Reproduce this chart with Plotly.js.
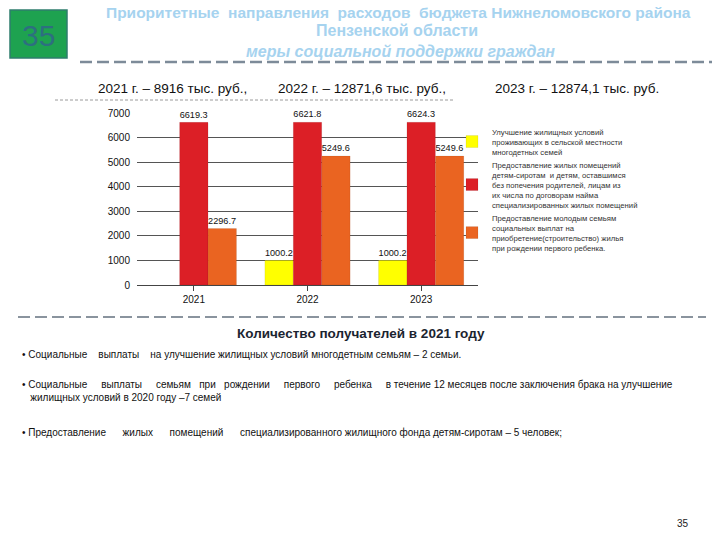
<!DOCTYPE html>
<html>
<head>
<meta charset="utf-8">
<script src="https://cdn.plot.ly/plotly-3.0.1.min.js"></script>
<style>
  body { margin: 0; background: #fff; }
  #chart { width: 720px; height: 540px; }
</style>
</head>
<body>
<div id="chart"></div>
<script>
// data
var years = ["2021", "2022", "2023"];
var ruralFamilies = [null, 1000.2, 1000.2];
var orphanHousing = [6619.3, 6621.8, 6624.3];
var youngFamilies = [2296.7, 5249.6, 5249.6];

var seriesNames = [
    "Улучшение жилищных условий<br>проживающих в сельской местности<br>многодетных семей",
    "Предоставление жилых помещений<br>детям-сиротам  и детям, оставшимся<br>без попечения родителей, лицам из<br>их числа по договорам найма<br>специализированных жилых помещений",
    "Предоставление молодым семьям<br>социальных выплат на<br>приобретение(строительство) жилья<br>при рождении первого ребенка."
];
var seriesColors = ["#ffff00", "#dc1f26", "#ea6421"];

var totals = ["2021 г. – 8916 тыс. руб.,", "2022 г. – 12871,6 тыс. руб.,", "2023 г. – 12874,1 тыс. руб."];
var bullets = [
    "• Социальные &nbsp;&nbsp; выплаты &nbsp;&nbsp; на улучшение жилищных условий многодетным семьям – 2 семьи.",
    "• Социальные &nbsp;&nbsp;&nbsp; выплаты &nbsp;&nbsp;&nbsp; семьям &nbsp; при &nbsp; рождении &nbsp;&nbsp;&nbsp; первого &nbsp;&nbsp;&nbsp; ребенка &nbsp;&nbsp;&nbsp; в течение 12 месяцев после заключения брака на улучшение",
    "&nbsp;&nbsp; жилищных условий в 2020 году –7 семей",
    "• Предоставление &nbsp;&nbsp;&nbsp;&nbsp; жилых &nbsp;&nbsp;&nbsp;&nbsp; помещений &nbsp;&nbsp;&nbsp;&nbsp; специализированного жилищного фонда детям-сиротам – 5 человек;"
];

var allValues = [ruralFamilies, orphanHousing, youngFamilies];
var data = allValues.map(function (vals, i) {
    return {
        x: years,
        y: vals,
        name: seriesNames[i],
        type: "bar",
        marker: {color: seriesColors[i], line: {color: "rgba(0,0,0,0.15)", width: 0.5}},
        text: vals.map(function (v) { return v === null ? "" : String(v); }),
        textposition: "outside",
        textfont: {size: 10, color: "#111"},
        cliponaxis: false
    };
});

var font = "Liberation Sans, Arial, sans-serif";
var annotations = [
    {text: "Приоритетные &nbsp;направления &nbsp;расходов &nbsp;бюджета Нижнеломовского района", x: 0.554, y: 13, size: 15.5, color: "#a6d3ef", bold: true},
    {text: "Пензенской области", x: 0.552, y: 31, size: 16, color: "#a6d3ef", bold: true},
    {text: "<i>меры социальной поддержки граждан</i>", x: 0.556, y: 51, size: 16, color: "#a6d3ef", bold: true},
    {text: "35", x: 0.0535, y: 36, size: 30, color: "#2d6f80"},
    {text: totals[0], x: 0.239, y: 89, size: 13.5, color: "#111"},
    {text: totals[1], x: 0.503, y: 89, size: 13.5, color: "#111"},
    {text: totals[2], x: 0.801, y: 89, size: 13.5, color: "#111"},
    {text: "Количество получателей в 2021 году", x: 0.502, y: 333, size: 13.5, color: "#1b2430", bold: true},
    {text: "35", x: 0.949, y: 523, size: 10, color: "#222"}
].map(function (a) {
    return {
        xref: "paper", yref: "paper", x: a.x, y: 1 - a.y / 540,
        text: a.bold ? "<b>" + a.text + "</b>" : a.text,
        showarrow: false, xanchor: "center", yanchor: "middle",
        font: {family: font, size: a.size, color: a.color}
    };
});

var bulletY = [354, 384, 397, 432];
bullets.forEach(function (t, i) {
    annotations.push({
        xref: "paper", yref: "paper", x: 20 / 720, y: 1 - bulletY[i] / 540,
        text: t, showarrow: false, xanchor: "left", yanchor: "middle",
        font: {family: font, size: 10, color: "#111"}
    });
});

function hline(x0, x1, y, color, width, dash) {
    return {
        type: "line", xref: "paper", yref: "paper",
        x0: x0 / 720, x1: x1 / 720, y0: 1 - y / 540, y1: 1 - y / 540,
        line: {color: color, width: width, dash: dash}
    };
}

var shapes = [
    {type: "rect", xref: "paper", yref: "paper", x0: 10 / 720, x1: 67 / 720, y0: 1 - 58 / 540, y1: 1 - 10 / 540,
     fillcolor: "#1ea250", line: {color: "#2f7d6e", width: 1.5}},
    hline(80, 712, 62, "#7d8b99", 2.5, "12px,5px"),
    hline(55, 455, 100, "#9a9a9a", 1, "3px,2px"),
    hline(18, 706, 317, "#8a949e", 2, "12px,5px")
];

var layout = {
    width: 720,
    height: 540,
    margin: {l: 0, r: 0, t: 0, b: 0},
    paper_bgcolor: "#ffffff",
    plot_bgcolor: "#ffffff",
    font: {family: font, size: 10, color: "#111"},
    barmode: "group",
    bargap: 0.25,
    bargroupgap: 0,
    xaxis: {
        domain: [137 / 720, 478 / 720],
        showline: true, linecolor: "#444", linewidth: 1,
        ticks: "outside", tickson: "boundaries", ticklen: 5, tickcolor: "#444",
        tickfont: {size: 10, color: "#111"}
    },
    yaxis: {
        domain: [1 - 285 / 540, 1 - 113 / 540],
        range: [0, 7000],
        dtick: 1000,
        showgrid: true, gridcolor: "#555", gridwidth: 1,
        zeroline: true, zerolinecolor: "#444",
        showline: false,
        ticks: "", ticklabelstandoff: 6,
        tickfont: {size: 10, color: "#111"}
    },
    showlegend: true,
    legend: {
        x: 452 / 720, y: 1 - 120 / 540, xanchor: "left", yanchor: "top",
        font: {size: 7.7, color: "#333", family: font},
        itemwidth: 30, tracegroupgap: 0,
        bgcolor: "rgba(0,0,0,0)"
    },
    annotations: annotations,
    shapes: shapes
};

Plotly.newPlot("chart", data, layout, {displayModeBar: false, staticPlot: true});
</script>
</body>
</html>
